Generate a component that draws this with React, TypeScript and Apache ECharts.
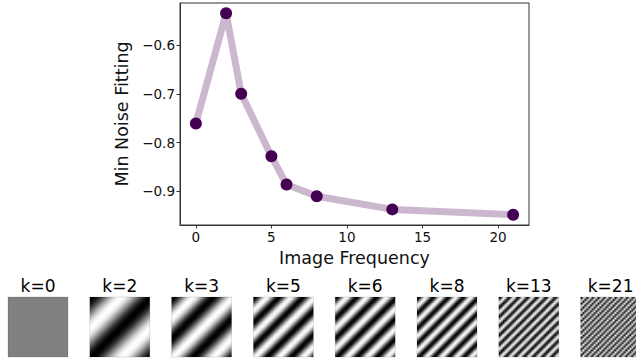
import React, { useEffect, useRef } from "react";
import * as echarts from "echarts";

const frequencies = [0, 2, 3, 5, 6, 8, 13, 21];
const minNoiseFitting = [-0.761, -0.535, -0.7, -0.828, -0.886, -0.91, -0.937, -0.948];
const xTicks = [0, 5, 10, 15, 20];
const yTicks = [-0.9, -0.8, -0.7, -0.6];
const imageLabels = frequencies.map((k) => `k=${k}`);

const FONT = "DejaVu Sans";

function makePattern(k: number, n = 32): string {
  const c = document.createElement("canvas");
  c.width = n;
  c.height = n;
  const ctx = c.getContext("2d")!;
  const img = ctx.createImageData(n, n);
  for (let j = 0; j < n; j++) {
    for (let i = 0; i < n; i++) {
      const v = k === 0 ? 0 : -Math.cos((Math.PI * k * (i + j)) / n);
      const g = Math.round(((v + 1) / 2) * 255);
      const p = (j * n + i) * 4;
      img.data[p] = g;
      img.data[p + 1] = g;
      img.data[p + 2] = g;
      img.data[p + 3] = 255;
    }
  }
  ctx.putImageData(img, 0, 0);
  return c.toDataURL();
}

export default function App() {
  const ref = useRef<HTMLDivElement>(null);
  useEffect(() => {
    if (!ref.current) return;
    const chart = echarts.init(ref.current, undefined, { renderer: "svg" });
    const graphics: any[] = [];
    frequencies.forEach((k, i) => {
      const left = 8 + i * 81.8;
      graphics.push({
        type: "image",
        x: left,
        y: 297,
        style: { image: makePattern(k), x: 0, y: 0, width: 60, height: 60 },
      });
      graphics.push({
        type: "rect",
        x: left,
        y: 297,
        shape: { x: 0, y: 0, width: 60, height: 60 },
        style: { fill: "none", stroke: "rgba(0,0,0,0.12)", lineWidth: 1 },
      });
      graphics.push({
        type: "text",
        x: left + 30,
        y: 286,
        style: {
          text: imageLabels[i],
          font: `17px "${FONT}"`,
          fill: "#000",
          textAlign: "center",
          textVerticalAlign: "middle",
        },
      });
    });
    chart.setOption({
      animation: false,
      grid: {
        left: 180,
        top: 3,
        width: 349,
        height: 222,
        show: true,
        borderColor: "#333",
        borderWidth: 1,
        backgroundColor: "transparent",
      },
      xAxis: {
        type: "value",
        min: -1.05,
        max: 22.05,
        name: "Image Frequency",
        nameLocation: "middle",
        nameGap: 23,
        nameTextStyle: { fontFamily: FONT, fontSize: 17.5, color: "#111" },
        axisLine: { show: true, onZero: false, lineStyle: { color: "#333", width: 1 } },
        axisTick: { show: true, length: 3.5, lineStyle: { color: "#333" }, customValues: xTicks },
        axisLabel: {
          customValues: xTicks,
          fontFamily: FONT,
          fontSize: 13.5,
          color: "#111",
          margin: 5,
        },
        splitLine: { show: false },
      },
      yAxis: {
        type: "value",
        min: -0.969,
        max: -0.514,
        name: "Min Noise Fitting",
        nameLocation: "middle",
        nameGap: 41,
        nameTextStyle: { fontFamily: FONT, fontSize: 17.5, color: "#111" },
        axisLine: { show: true, onZero: false, lineStyle: { color: "#333", width: 1 } },
        axisTick: { show: true, length: 3.5, lineStyle: { color: "#333" }, customValues: yTicks },
        axisLabel: {
          customValues: yTicks,
          fontFamily: FONT,
          fontSize: 13.5,
          color: "#111",
          margin: 5,
          formatter: (v: number) => v.toFixed(1).replace("-", "\u2212"),
        },
        splitLine: { show: false },
      },
      series: [
        {
          type: "line",
          data: frequencies.map((k, i) => [k, minNoiseFitting[i]]),
          symbol: "circle",
          symbolSize: 12,
          lineStyle: { color: "rgba(68,1,84,0.28)", width: 7 },
          itemStyle: { color: "#440154" },
          z: 3,
        },
      ],
      graphic: graphics,
    });
    return () => chart.dispose();
  }, []);
  return (
    <div
      ref={ref}
      style={{ position: "absolute", left: 0, top: 0, width: 636, height: 358 }}
    />
  );
}
